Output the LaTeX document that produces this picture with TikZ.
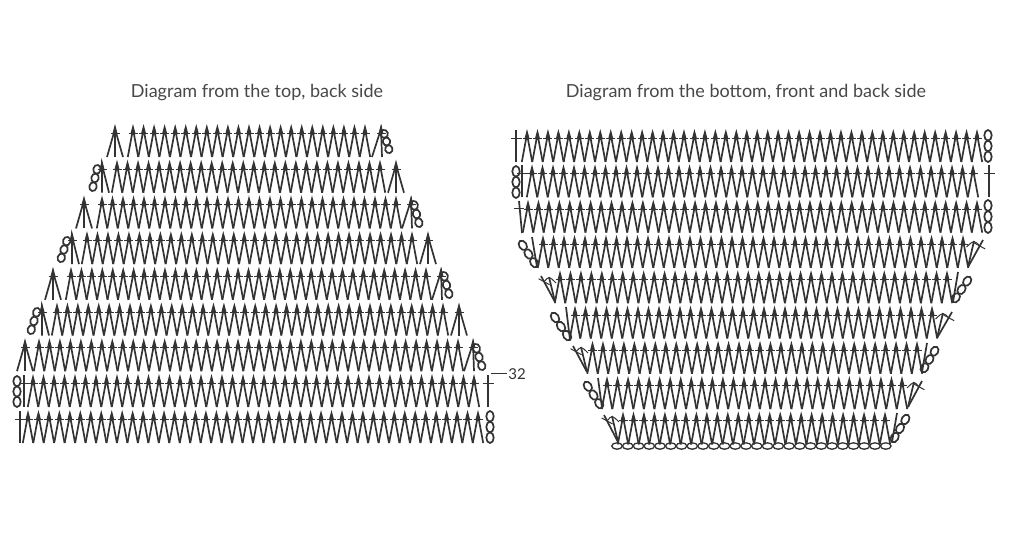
\documentclass[tikz,border=0pt]{standalone}
\usepackage{fontspec}
\setmainfont{Lato}
\definecolor{inkgrey}{HTML}{333333}
\newcommand{\rowh}{33}
\tikzset{
  stitch/.style = {draw = inkgrey, line width = 1.7pt},
  barline/.style = {draw = inkgrey, line width = 1pt},
  caption/.style = {text = inkgrey!90, font = \fontsize{18}{21}\selectfont, inner sep = 0pt}
}
% one stitch top with its spike and crossbar
\newcommand{\stitchtop}[2]{
  \fill [inkgrey] (#1,#2) -- (#1+2.6,#2+10) -- (#1-2.6,#2+10) -- cycle;
  \draw [barline] (#1-4.5,#2+9.5) -- (#1+4.5,#2+9.5);
}
% y, first top, last top
\newcommand{\stitchrow}[3]{
  \pgfmathtruncatemacro{\gaps}{round((#3-#2)/10.55)}
  \pgfmathsetmacro{\pitch}{(#3-#2)/\gaps}
  \foreach \i in {0,...,\gaps} {
    \pgfmathsetmacro{\xtop}{#2+\i*\pitch}
    \stitchtop{\xtop}{#1}
    \draw [stitch, line join = round] (\xtop-5.2,#1+\rowh) -- (\xtop,#1+5) -- (\xtop+5.2,#1+\rowh);
  }
}
% three legs under one top
\newcommand{\decstitch}[2]{
  \stitchtop{#1}{#2}
  \draw [stitch] (#1-8,#2+\rowh) -- (#1,#2+5) -- (#1+8,#2+\rowh);
  \draw [stitch] (#1,#2+5) -- (#1,#2+\rowh);
}
\newcommand{\tallstitch}[2]{
  \draw [stitch] (#1,#2+1) -- (#1,#2+\rowh);
  \draw [barline] (#1-5.5,#2+9.5) -- (#1+5.5,#2+9.5);
}
\newcommand{\chainlinks}[4]{
  \pgfmathsetmacro{\ang}{atan2(#2-#4,#3-#1)}
  \pgfmathsetmacro{\rad}{veclen(#3-#1,#4-#2)/6}
  \foreach \t in {1,3,5} {
    \draw [stitch, shift = {({#1+(#3-#1)*\t/6},{#2+(#4-#2)*\t/6})}, rotate = \ang] (0,0) ellipse ({\rad} and 3.7);
  }
}
% top with two legs, the chain sits beside it
\newcommand{\chainend}[8]{
  \stitchtop{#1}{#2}
  \draw [stitch] (#3,#2+\rowh) -- (#1,#2+5) -- (#4,#2+\rowh);
  \chainlinks{#5}{#6}{#7}{#8}
}
% apex at the bottom, slanted stitch going up with a crossbar
\newcommand{\slantstitch}[5]{
  \draw [stitch] (#1,#2) -- (#3,#4);
  \draw [stitch] (#1,#2) -- (#5,#4+1);
  \draw [barline] ({#3+(#1-#3)*0.22-5.5},{#4+(#2-#4)*0.22-3}) -- ({#3+(#1-#3)*0.22+5.5},{#4+(#2-#4)*0.22+3});
  \draw [barline] ({#5+(#1-#3)*0.5},#4+7) .. controls (#5,#4) .. ({#3+(#1-#3)*0.22},{#4+(#2-#4)*0.22});
}
\begin{document}
\begin{tikzpicture}[x = 1pt, y = -1pt]
\useasboundingbox (0,0) rectangle (1024,536);
\node [caption] (titleleft) at (257,93) {Diagram from the top, back side};
\node [caption] (titleright) at (746,93) {Diagram from the bottom, front and back side};

% left part
\stitchrow{124}{133}{365}
\decstitch{115}{124}
\chainend{381}{124}{372}{382}{383}{130}{390}{153}

\stitchrow{159.7}{117}{380}
\decstitch{396}{159.7}
\chainend{102}{159.7}{109}{102}{98}{165}{92}{191}

\stitchrow{195.4}{102}{396}
\decstitch{84}{195.4}
\chainend{411}{195.4}{402}{412}{413}{201}{420}{227}

\stitchrow{231.1}{87}{412}
\decstitch{428}{231.1}
\chainend{72}{231.1}{79}{72}{68}{237}{60}{262}

\stitchrow{266.8}{71}{426}
\decstitch{53}{266.8}
\chainend{441}{266.8}{432}{442}{443}{272}{450}{298}

\stitchrow{302.5}{57}{443}
\decstitch{459}{302.5}
\chainend{42}{302.5}{49}{42}{38}{308}{30}{334}

\stitchrow{338.2}{39}{458}
\decstitch{25}{338.2}
\chainend{473}{338.2}{464}{474}{475}{344}{483}{370}

\stitchrow{374}{33}{474}
\tallstitch{24}{374}
\tallstitch{488}{374}
\chainlinks{17}{376}{17}{407}

\stitchrow{410}{28}{478}
\tallstitch{20}{410}
\chainlinks{490}{411}{490}{443}

\coordinate (tagstart) at (491,373.5);
\coordinate (tagend) at (507,373.5);
\draw [barline] (tagstart) -- (tagend);
\node [inner sep = 0pt, text = inkgrey, font = \fontsize{15}{17}\selectfont] (rowlabel) at (517,374.5) {32};

% right part
\stitchrow{129}{527}{977}
\tallstitch{516}{129}
\chainlinks{988}{130}{988}{162}

\stitchrow{164.3}{532}{973}
\tallstitch{522}{164.3}
\chainlinks{516}{166}{516}{198}
\tallstitch{989}{164.3}

\stitchrow{199.6}{528}{977}
\draw [barline] (514,208) -- (524,208);
\draw [stitch] (519,201) -- (522,233);
\chainlinks{988}{200}{988}{233}

\stitchrow{234.9}{543}{963}
\chainlinks{520}{241}{537}{267}
\draw [stitch] (532,237) -- (537,267);
\slantstitch{968}{267}{983}{240}{974}

\stitchrow{270.2}{560}{947}
\slantstitch{555}{302}{541}{276}{549}
\draw [stitch] (958,272) -- (953,302);
\chainlinks{970}{277}{953}{302}

\stitchrow{305.5}{575}{932}
\chainlinks{552}{313}{570}{340}
\draw [stitch] (566,307) -- (570,340);
\slantstitch{937}{338}{952}{312}{943}

\stitchrow{340.8}{592.5}{917}
\slantstitch{587}{372}{573}{346}{581}
\draw [stitch] (927,343) -- (922,372);
\chainlinks{937}{347}{922}{372}

\stitchrow{376.1}{607}{902}
\chainlinks{585}{382}{602}{408}
\draw [stitch] (598,378) -- (602,408);
\slantstitch{908}{407}{922}{381}{914}

\stitchrow{411.4}{623}{885}
\slantstitch{618}{442}{604}{415}{612}
\draw [stitch] (897,413) -- (892,442);
\chainlinks{908}{415}{892}{442}

\foreach \k in {0,...,25} {
  \draw [stitch, line width = 1.3pt] ({617+\k*10.75},446) ellipse (5.3 and 3.2);
}
\end{tikzpicture}
\end{document}
